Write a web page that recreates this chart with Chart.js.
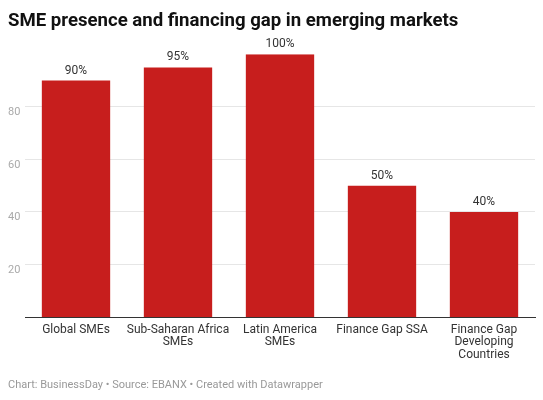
<!DOCTYPE html>
<html>
<head>
<meta charset="utf-8">
<script src="https://cdn.jsdelivr.net/npm/chart.js@4"></script>
<style>
  html, body { margin: 0; padding: 0; background: #fff; }
  #wrap { width: 543px; height: 400px; position: relative; }
</style>
</head>
<body>
<div id="wrap"><canvas id="chart1"></canvas></div>
<script>
const categories = [
  "Global SMEs",
  ["Sub-Saharan Africa", "SMEs"],
  ["Latin America", "SMEs"],
  "Finance Gap SSA",
  ["Finance Gap", "Developing", "Countries"],
];
const values = [90, 95, 100, 50, 40];
const valueLabels = ["90%", "95%", "100%", "50%", "40%"];
const yTicks = [20, 40, 60, 80];

// labels above bars
const barLabels = {
  id: "barLabels",
  afterDatasetsDraw(chart) {
    const ctx = chart.ctx;
    const meta = chart.getDatasetMeta(0);
    ctx.save();
    ctx.font = "12px Roboto";
    ctx.fillStyle = "#333333";
    ctx.textAlign = "center";
    ctx.textBaseline = "bottom";
    meta.data.forEach((bar, i) => {
      ctx.fillText(valueLabels[i], bar.x, bar.y - 4);
    });
    ctx.restore();
  },
};

const data1 = {
  labels: categories,
  datasets: [
    {
      label: "SME presence and financing gap",
      data: values,
      backgroundColor: "#c71e1d",
      categoryPercentage: 1,
      barPercentage: 0.67,
    },
  ],
};

const config1 = {
  type: "bar",
  data: data1,
  options: {
    responsive: false,
    animation: false,
    layout: { padding: { left: 8, right: 8, top: 0, bottom: 0 } },
    plugins: {
      legend: { display: false },
      tooltip: { enabled: false },
      title: {
        display: true,
        text: "SME presence and financing gap in emerging markets",
        align: "start",
        color: "#111111",
        font: { family: "Roboto", size: 18.6, weight: "bold" },
        padding: { top: 10, bottom: 22 },
      },
      subtitle: {
        display: true,
        position: "bottom",
        text: "Chart: BusinessDay • Source: EBANX • Created with Datawrapper",
        align: "start",
        color: "#999999",
        font: { family: "Roboto", size: 11 },
        padding: { top: 11, bottom: 8 },
      },
    },
    scales: {
      x: {
        grid: { display: false, drawTicks: false },
        border: { color: "#333333", width: 1 },
        ticks: {
          color: "#333333",
          font: { family: "Roboto", size: 12, lineHeight: 1.02 },
          padding: 7,
          maxRotation: 0,
          autoSkip: false,
        },
      },
      y: {
        min: 0,
        max: 100,
        afterBuildTicks(axis) {
          axis.ticks = yTicks.map((v) => ({ value: v }));
        },
        afterFit(axis) {
          axis.width = 17;
        },
        grid: { color: "#e6e6e6", drawTicks: false },
        border: { display: false },
        ticks: {
          color: "#aaaaaa",
          font: { family: "Roboto", size: 11 },
          align: "start",
          crossAlign: "far",
          padding: 0,
        },
      },
    },
  },
  plugins: [barLabels],
};

const canvas = document.getElementById("chart1");
canvas.width = 543;
canvas.height = 400;
const myChart = new Chart(canvas, config1);
</script>
</body>
</html>
